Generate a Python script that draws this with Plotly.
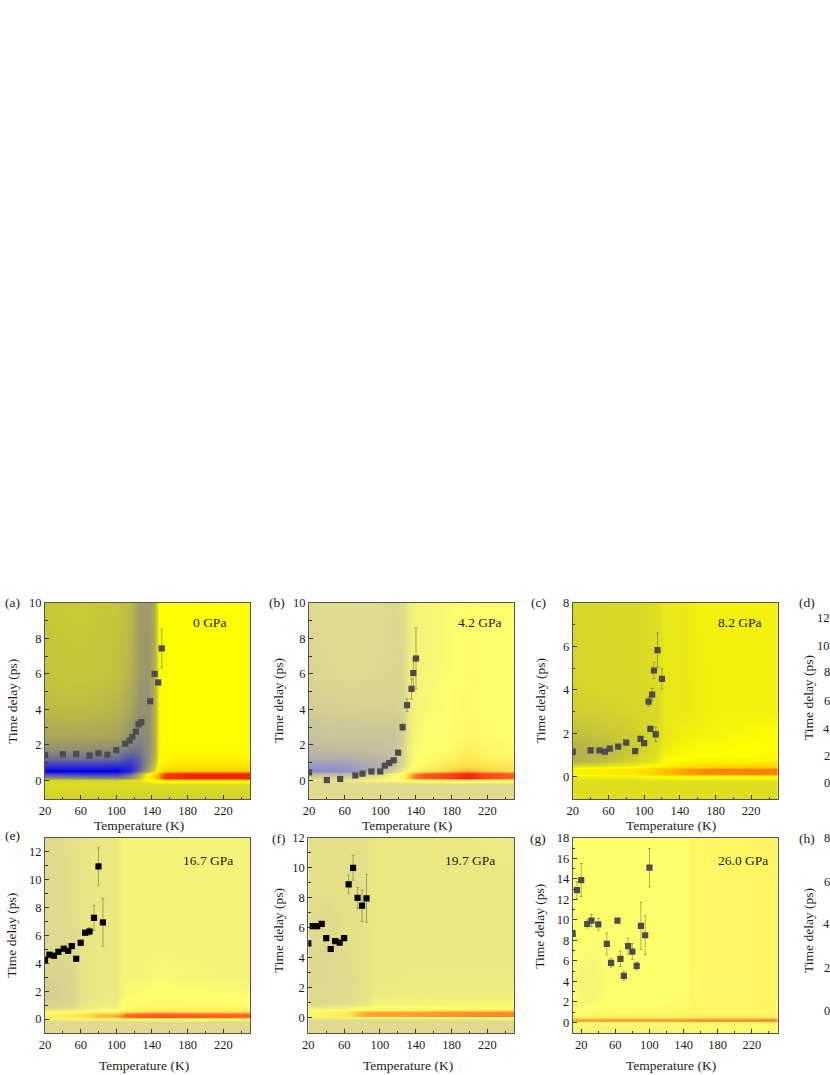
import plotly.graph_objects as go

# ---------- measured scatter data (K, ps, ps) ----------
t_a = [20,40,55,70,80,90,100,110,115,118,122,125,128,138,143,147,151]
y_a = [1.43,1.47,1.49,1.4,1.53,1.45,1.7,2.07,2.24,2.45,2.75,3.16,3.28,4.46,6.0,5.52,7.44]
e_a = [0,0,0,0,0,0,0,0,0,0,0,0,0,0,0.1,0.1,1.1]

t_b = [20,40,55,72,80,90,100,105,110,115,120,125,130,135,137,140]
y_b = [0.45,0.02,0.08,0.28,0.38,0.5,0.5,0.83,0.98,1.13,1.56,3.0,4.24,5.16,6.05,6.87]
e_b = [0,0,0,0,0,0,0,0,0,0,0,0.2,0.35,0.57,0.8,1.72]

t_c = [20,40,50,56,61.5,71,80,90,96,100,105,107,109,111,113,115,120]
y_c = [1.15,1.21,1.21,1.15,1.29,1.38,1.57,1.18,1.74,1.54,3.46,2.2,3.78,4.89,1.95,5.83,4.5]
e_c = [0,0,0,0,0,0,0,0,0,0,0.22,0.12,0.29,0.37,0.33,0.79,0.46]

t_e = [20,25,30,35,41,46,50,55,60,65,70,75,80,85]
y_e = [4.26,4.62,4.55,4.83,5.05,4.9,5.24,4.33,5.48,6.2,6.29,7.27,10.96,6.94]
e_e = [0,0,0,0,0,0,0,0,0,0,0.27,0.9,1.34,1.71]

t_f = [20,25,30,35,40,45,50,55,60,65,70,75,80,85]
y_f = [4.97,6.12,6.12,6.26,5.32,4.59,5.12,5.01,5.32,8.91,10.0,8.0,7.48,7.97]
e_f = [0,0,0,0,0,0,0,0,0,0.6,0.82,0.7,1.04,1.6]

t_g = [10,15,20,27,32,40,50,55,62.5,66,70,75,80,85,90,95,100]
y_g = [8.63,12.9,13.88,9.6,9.93,9.57,7.65,5.8,9.93,6.19,4.53,7.43,6.9,5.5,9.41,8.5,15.1]
e_g = [0,0.85,1.63,0.4,0.6,0.58,1.06,0.44,0,0.73,0.45,0.78,0.78,0.4,2.3,1.9,1.87]

# ---------- map grids ----------
mt_a = [20,60,100,115,125,135,142,148,155,180,210,250]
md_a = [-1,-0.2,0.03,0.14,0.36,0.55,0.8,1.2,1.7,2.5,4,6,10]
mz_a = [
 [-.13]*12,
 [-.11]*12,
 [-.13,-.13,-.13,-.1,-.08,0,.03,.1,.12,.12,.12,.12],
 [-.4,-.45,-.5,-.4,-.2,.05,.25,.45,.85,.95,.95,.95],
 [-.7,-.75,-.75,-.6,-.3,.03,.2,.42,.8,.95,.95,.95],
 [-1,-1,-1,-.85,-.6,-.3,-.12,.12,.26,.28,.28,.28],
 [-.8,-.8,-.82,-.82,-.66,-.4,-.2,.05,.12,.14,.14,.14],
 [-.58,-.58,-.6,-.7,-.62,-.45,-.28,0,.05,.06,.06,.06],
 [-.44,-.44,-.46,-.55,-.55,-.45,-.3,-.02,.02,.02,.02,.02],
 [-.32,-.31,-.33,-.42,-.48,-.44,-.3,-.02,0,0,0,0],
 [-.23,-.22,-.25,-.32,-.42,-.42,-.3,-.02,0,0,0,0],
 [-.19,-.18,-.2,-.26,-.38,-.4,-.3,-.02,0,0,0,0],
 [-.17,-.16,-.18,-.23,-.36,-.38,-.3,0,0,0,0,0],
]

mt_b = [20,60,100,115,125,132,140,150,170,185,200,215,250]
md_b = [-1,-0.2,0.03,0.14,0.36,0.55,0.8,1.2,1.7,2.5,4,6,10]
mz_b = [
 [-.15]*13,
 [-.17]*13,
 [-.12,-.1,-.03,-.02,0,.03,.06,.08,.1,.12,.12,.1,.08],
 [-.2,-.2,-.08,0,.1,.4,.6,.72,.78,.88,.98,.82,.68],
 [-.4,-.4,-.15,-.03,.1,.35,.58,.72,.78,.88,.98,.82,.68],
 [-.95,-.9,-.45,-.22,-.08,.02,.1,.2,.3,.38,.42,.36,.28],
 [-.85,-.8,-.55,-.32,-.15,-.04,.02,.1,.18,.25,.3,.25,.18],
 [-.6,-.58,-.5,-.35,-.18,-.06,-.01,.03,.08,.14,.2,.12,.08],
 [-.46,-.42,-.4,-.35,-.2,-.07,-.02,0,.03,.08,.14,.06,.03],
 [-.36,-.33,-.33,-.33,-.22,-.08,-.03,-.01,0,.03,.07,.02,0],
 [-.26,-.24,-.23,-.24,-.2,-.08,-.05,-.03,-.01,.01,.04,.01,0],
 [-.2,-.17,-.18,-.2,-.18,-.08,-.05,-.04,-.02,0,.03,0,0],
 [-.17,-.15,-.17,-.18,-.15,-.08,-.05,-.04,-.03,0,.02,0,0],
]

mt_c = [20,50,80,100,115,122,140,160,180,220,250]
md_c = [-1,-0.2,0.03,0.14,0.36,0.5,0.7,1,1.4,2,3,4.5,8]
mz_c = [
 [-.1]*11,
 [-.1]*11,
 [-.05,-.04,-.03,-.02,0,.01,.03,.03,.04,.04,.04],
 [.06,.1,.12,.18,.28,.33,.4,.46,.48,.5,.5],
 [.04,.08,.1,.16,.28,.33,.4,.46,.48,.5,.5],
 [-.1,-.08,-.05,-.02,.02,.06,.12,.17,.2,.22,.22],
 [-.27,-.22,-.14,-.1,-.06,-.02,.03,.05,.06,.07,.08],
 [-.28,-.25,-.17,-.12,-.09,-.04,-.01,0,0,.01,.02],
 [-.26,-.24,-.17,-.13,-.1,-.06,-.03,-.02,-.01,0,0],
 [-.2,-.18,-.15,-.13,-.11,-.07,-.05,-.04,-.03,-.02,0],
 [-.14,-.14,-.13,-.12,-.11,-.07,-.07,-.05,-.04,-.04,-.04],
 [-.13,-.12,-.12,-.11,-.1,-.07,-.07,-.05,-.04,-.04,-.04],
 [-.12,-.12,-.11,-.11,-.1,-.07,-.07,-.04,-.04,-.04,-.04],
]

mt_e = [20,35,50,60,80,100,106,112,130,150,180,250]
md_e = [-1,-0.2,0.03,0.14,0.36,0.55,0.9,1.5,2.2,3,5,8,13]
mz_e = [
 [-.17]*12,
 [-.17]*12,
 [-.06,-.06,-.06,-.06,-.04,-.04,-.01,0,0,0,0,0],
 [.12,.14,.18,.24,.38,.42,.5,.64,.68,.7,.68,.64],
 [.1,.12,.16,.22,.36,.4,.48,.62,.66,.68,.66,.62],
 [-.06,-.05,-.04,-.03,0,.02,.05,.15,.22,.24,.2,.2],
 [-.2,-.18,-.15,-.1,-.08,-.05,0,.03,.05,.07,.05,.03],
 [-.25,-.24,-.2,-.12,-.1,-.09,-.03,-.01,0,.01,0,0],
 [-.25,-.24,-.2,-.12,-.1,-.1,-.05,-.03,-.01,0,-.01,-.03],
 [-.22,-.22,-.19,-.12,-.1,-.1,-.05,-.05,-.05,-.02,-.04,-.05],
 [-.18,-.18,-.16,-.12,-.1,-.1,-.05,-.05,-.05,-.05,-.05,-.05],
 [-.17,-.16,-.14,-.12,-.1,-.1,-.05,-.05,-.05,-.05,-.05,-.05],
 [-.16,-.15,-.13,-.12,-.1,-.1,-.05,-.05,-.05,-.05,-.05,-.05],
]

mt_f = [20,40,60,75,85,92,110,140,180,250]
md_f = [-1,-0.2,0.03,0.14,0.36,0.55,0.9,1.5,2.5,4,6,9,12]
mz_f = [
 [-.17]*10,
 [-.17]*10,
 [-.07,-.07,-.06,-.05,-.04,-.02,-.01,-.01,0,.01],
 [.1,.12,.16,.38,.46,.46,.46,.48,.52,.55],
 [.08,.1,.14,.36,.44,.45,.45,.46,.5,.52],
 [-.06,-.05,-.05,0,.02,.05,.05,.05,.07,.08],
 [-.16,-.15,-.14,-.12,-.1,-.06,-.05,-.05,-.04,-.03],
 [-.17,-.17,-.16,-.13,-.12,-.09,-.08,-.07,-.07,-.07],
 [-.18,-.18,-.17,-.13,-.12,-.1,-.1,-.09,-.09,-.09],
 [-.18,-.18,-.15,-.13,-.12,-.1,-.1,-.1,-.1,-.1],
 [-.15,-.17,-.13,-.13,-.12,-.1,-.1,-.1,-.1,-.1],
 [-.13,-.13,-.13,-.13,-.13,-.1,-.1,-.1,-.1,-.1],
 [-.13,-.13,-.13,-.13,-.13,-.1,-.1,-.1,-.1,-.09],
]

mt_g = [10,30,50,80,120,144,150,180,220,235,250]
md_g = [-1,-0.3,0.03,0.14,0.36,0.55,1,2,3,5,8,12,18]
mz_g = [
 [-.06,-.06,-.06,-.05,-.05,-.03,-.03,-.03,-.03,-.03,-.03],
 [-.04,-.04,-.04,-.03,-.02,-.02,-.01,0,0,0,0],
 [.02,.02,.03,.03,.03,.03,.05,.05,.05,.05,.05],
 [.44,.44,.47,.47,.47,.47,.5,.5,.5,.52,.52],
 [.42,.42,.45,.45,.45,.45,.48,.48,.48,.5,.5],
 [.1,.12,.12,.12,.12,.14,.16,.16,.16,.16,.16],
 [.02,.03,.03,.04,.05,.06,.08,.08,.08,.08,.09],
 [-.01,-.04,0,0,.01,.01,.07,.07,.07,.09,.1],
 [-.01,-.05,-.01,0,0,.01,.07,.07,.07,.09,.1],
 [-.02,-.05,-.01,0,0,.01,.07,.07,.07,.09,.1],
 [0,0,0,0,0,.01,.08,.07,.08,.09,.1],
 [0,0,0,0,0,.01,.08,.07,.08,.09,.1],
 [0,0,0,0,0,.01,.08,.07,.08,.09,.1],
]

# ---------- colours ----------
stops_sat = [(-1,'rgb(0,0,235)'),(-.75,'rgb(60,60,200)'),(-.5,'rgb(130,130,130)'),(-.3,'rgb(175,170,85)'),
             (-.15,'rgb(205,205,50)'),(0,'rgb(255,255,0)'),(.35,'rgb(255,190,0)'),(.6,'rgb(255,90,0)'),(1,'rgb(235,30,0)')]
stops_pale = [(-1,'rgb(135,135,215)'),(-.5,'rgb(185,180,165)'),(-.3,'rgb(205,200,150)'),(-.15,'rgb(225,220,140)'),
              (0,'rgb(255,255,110)'),(.3,'rgb(255,220,70)'),(.6,'rgb(255,110,40)'),(1,'rgb(240,30,20)')]

def cs(stops):
    return [[(v+1)/2, c] for v, c in stops]

W, H = 830, 1075
SERIF = "Liberation Serif"
TXT = "#1c1c1c"

panels = [
 dict(t=t_a,y=y_a,e=e_a,mt=mt_a,md=md_a,mz=mz_a,stops=stops_sat,box=(45,250,603,799),xr=(20,250),yr=(-1.05,10),mk='#4b4b52',
      lab='(a)',lab_xy=(3,602.7),gpa='0 GPa',gpa_xy=(209,622.7),xt=(138.6,825),yt=(11.7,701)),
 dict(t=t_b,y=y_b,e=e_b,mt=mt_b,md=md_b,mz=mz_b,stops=stops_pale,box=(309,514,603,799),xr=(20,250),yr=(-1.05,10),mk='#4b4b52',
      lab='(b)',lab_xy=(267,602.7),gpa='4.2 GPa',gpa_xy=(480,622.7),xt=(406.8,825),yt=(278,701)),
 dict(t=t_c,y=y_c,e=e_c,mt=mt_c,md=md_c,mz=mz_c,stops=stops_sat,box=(572.7,778,603,799),xr=(20,250),yr=(-1.03,8),mk='#4b4b52',
      lab='(c)',lab_xy=(529,602.7),gpa='8.2 GPa',gpa_xy=(739.7,622.7),xt=(670.8,825),yt=(540,701)),
 dict(t=t_e,y=y_e,e=e_e,mt=mt_e,md=md_e,mz=mz_e,stops=stops_pale,box=(45,250,838,1033),xr=(20,250),yr=(-1,13),mk='#000000',
      lab='(e)',lab_xy=(3,835),gpa='16.7 GPa',gpa_xy=(208.3,860),xt=(143.7,1065.7),yt=(11.7,935)),
 dict(t=t_f,y=y_f,e=e_f,mt=mt_f,md=md_f,mz=mz_f,stops=stops_pale,box=(308.3,514.3,838,1033),xr=(20,250),yr=(-1.02,12),mk='#000000',
      lab='(f)',lab_xy=(270,838),gpa='19.7 GPa',gpa_xy=(469.7,860),xt=(407.5,1065.7),yt=(278,931)),
 dict(t=t_g,y=y_g,e=e_g,mt=mt_g,md=md_g,mz=mz_g,stops=stops_pale,box=(572.7,777.7,838,1033),xr=(10,250.4),yr=(-1.05,18),mk='#4b4b52',
      lab='(g)',lab_xy=(528,838),gpa='26.0 GPa',gpa_xy=(743,860),xt=(671,1065.7),yt=(540,926.7)),
]

fig = go.Figure()
ann = []

def note(text, px, py, size=13.5, xanchor='center', angle=0):
    ann.append(dict(text=text, x=px/W, y=1-py/H, xref='paper', yref='paper', showarrow=False,
                    xanchor=xanchor, yanchor='middle', textangle=angle,
                    font=dict(family=SERIF, size=size, color=TXT)))

layout_axes = {}
for i, p in enumerate(panels, start=1):
    sx = '' if i == 1 else str(i)
    x0, x1, y0, y1 = p['box']
    fig.add_trace(go.Heatmap(x=p['mt'], y=p['md'], z=p['mz'], zmin=-1, zmax=1, zsmooth='best',
                             colorscale=cs(p['stops']), showscale=False, xaxis='x'+sx, yaxis='y'+sx))
    fig.add_trace(go.Scatter(x=p['t'], y=p['y'], mode='markers', xaxis='x'+sx, yaxis='y'+sx, showlegend=False,
                             marker=dict(symbol='square', size=6.2, color=p['mk'], line=dict(width=0)),
                             error_y=dict(type='data', array=p['e'], visible=True, color='rgba(110,110,80,0.8)',
                                          thickness=0.7, width=1.5)))
    common = dict(ticks='inside', showgrid=False, zeroline=False, showline=True, mirror=True, automargin=False,
                  linecolor='#555555', linewidth=1, tickcolor='#333333', ticklen=4, tickwidth=0.8,
                  tickfont=dict(family=SERIF, size=12.5, color=TXT))
    layout_axes['xaxis'+sx] = dict(common, domain=[x0/W, x1/W], range=list(p['xr']), anchor='y'+sx,
                                   tick0=20, dtick=40,
                                   minor=dict(ticks='inside', ticklen=2.5, tick0=20, dtick=20,
                                              tickcolor='#333333', tickwidth=0.7, showgrid=False))
    layout_axes['yaxis'+sx] = dict(common, domain=[1-y1/H, 1-y0/H], range=list(p['yr']), anchor='x'+sx,
                                   tick0=0, dtick=2,
                                   minor=dict(ticks='inside', ticklen=2.5, tick0=0, dtick=1,
                                              tickcolor='#333333', tickwidth=0.7, showgrid=False))
    note('Temperature (K)', *p['xt'])
    note('Time delay (ps)', *p['yt'], angle=-90)
    note(p['lab'], *p['lab_xy'], xanchor='left')
    note(p['gpa'], *p['gpa_xy'])

# panels (d) and (h) continue beyond the right edge: only their left labels show
d_ticks = ['12','10','8','6','4','2','0']
d_tick_y = [618,646,672,700.7,729,756,783]
h_ticks = ['8','6','4','2','0']
h_tick_y = [838,882,924,968,1011]
note('(d)', 797, 602, xanchor='left')
note('(h)', 797, 838, xanchor='left')
note('Time delay (ps)', 808, 698, angle=-90)
note('Time delay (ps)', 808, 931, angle=-90)
for s, py in zip(d_ticks, d_tick_y):
    note(s, 832, py, size=12.5, xanchor='right')
for s, py in zip(h_ticks, h_tick_y):
    note(s, 832, py, size=12.5, xanchor='right')

fig.update_layout(width=W, height=H, margin=dict(l=0, r=0, t=0, b=0, autoexpand=False), autosize=False,
                  paper_bgcolor='white', plot_bgcolor='white', showlegend=False,
                  annotations=ann, font=dict(family=SERIF), **layout_axes)

fig.write_html("out.html", config={'displayModeBar': False},
               post_script="document.body.style.margin='0';document.body.style.overflow='hidden';")
